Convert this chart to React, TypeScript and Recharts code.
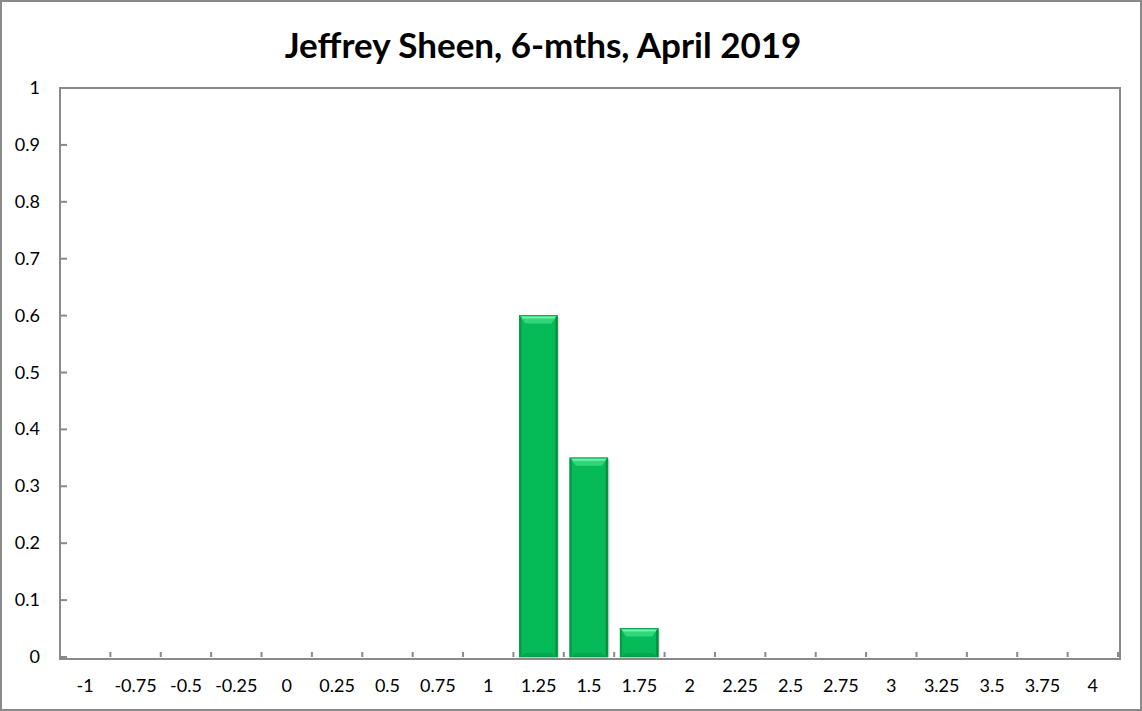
import { BarChart, Bar, XAxis, YAxis } from "recharts";

const categories = [
  "-1", "-0.75", "-0.5", "-0.25", "0", "0.25", "0.5", "0.75", "1", "1.25", "1.5",
  "1.75", "2", "2.25", "2.5", "2.75", "3", "3.25", "3.5", "3.75", "4",
];
const shares = [0, 0, 0, 0, 0, 0, 0, 0, 0, 0.6, 0.35, 0.05, 0, 0, 0, 0, 0, 0, 0, 0, 0];
const yTicks = [0, 0.1, 0.2, 0.3, 0.4, 0.5, 0.6, 0.7, 0.8, 0.9, 1];

const data = categories.map((c, i) => ({ cat: c, value: shares[i] }));

const W = 1142;
const H = 711;
const plot = { left: 60, top: 88, right: 1118, bottom: 657 };
const band = (plot.right - plot.left) / categories.length;
const axisColor = "#8a8a8a";
const font = "Lato, 'Open Sans', sans-serif";

// bevelled green bar, roughly like the Excel "angle" bevel
function BevelBar(props: any) {
  const { x, y, width: w, height: h } = props;
  if (!h || h <= 0) return null;
  const t = Math.min(8, h / 2);
  const s = 6;
  const e = 2;
  return (
    <g>
      <rect x={x + 2} y={y + 2} width={w} height={h - 2} fill="rgba(0,0,0,0.12)" />
      <rect x={x} y={y} width={w} height={h} fill="#05bb57" />
      <polygon points={`${x},${y} ${x + w},${y} ${x + w - s},${y + t} ${x + s},${y + t}`} fill="#2fd67a" />
      <polygon points={`${x + 1},${y + 1} ${x + w - 1},${y + 1} ${x + w - 3},${y + 3} ${x + 3},${y + 3}`} fill="#6ef0a8" />
      <polygon points={`${x},${y} ${x + e},${y + e} ${x + e},${y + h - e} ${x},${y + h}`} fill="#049a48" />
      <polygon points={`${x + w},${y} ${x + w - e},${y + e} ${x + w - e},${y + h - e} ${x + w},${y + h}`} fill="#038a41" />
      <polygon points={`${x},${y + h} ${x + s},${y + h - 4} ${x + w - s},${y + h - 4} ${x + w},${y + h}`} fill="#04a74e" />
      <rect x={x} y={y} width={w} height={h} fill="none" stroke="#039846" strokeWidth={0.8} />
    </g>
  );
}

function XTick(props: any) {
  const { x, payload } = props;
  return (
    <g>
      <line x1={x + band / 2} x2={x + band / 2} y1={plot.bottom} y2={plot.bottom - 5} stroke={axisColor} strokeWidth={2} />
      <text x={x} y={plot.bottom + 35} textAnchor="middle" fill="#000" fontSize={18} fontFamily={font}>
        {payload.value}
      </text>
    </g>
  );
}

function YTick(props: any) {
  const { y, payload } = props;
  return (
    <g>
      <line x1={plot.left} x2={plot.left + 7} y1={y} y2={y} stroke={axisColor} strokeWidth={2} />
      <text x={40} y={y + 6} textAnchor="end" fill="#000" fontSize={18} fontFamily={font}>
        {String(payload.value)}
      </text>
    </g>
  );
}

export default function App() {
  return (
    <div
      style={{
        position: "relative",
        width: W,
        height: H,
        boxSizing: "border-box",
        border: `2px solid ${axisColor}`,
        background: "#fff",
        margin: 0,
      }}
    >
      <style>{`body{margin:0}`}</style>
      <div
        style={{
          position: "absolute",
          top: 20,
          left: 0,
          width: 1082,
          textAlign: "center",
          fontFamily: font,
          fontWeight: 700,
          fontSize: 35,
          lineHeight: "44px",
          color: "#000",
        }}
      >
        Jeffrey Sheen, 6-mths, April 2019
      </div>
      <div style={{ position: "absolute", left: -2, top: -2 }}>
        <BarChart
          width={W}
          height={H}
          data={data}
          margin={{ top: plot.top, right: W - plot.right, bottom: 0, left: 0 }}
          barSize={38}
        >
          <XAxis dataKey="cat" axisLine={false} tickLine={false} tick={<XTick />} interval={0} height={H - plot.bottom} />
          <YAxis
            domain={[0, 1]}
            ticks={yTicks}
            axisLine={false}
            tickLine={false}
            tick={<YTick />}
            width={plot.left}
            interval={0}
          />
          <Bar dataKey="value" shape={<BevelBar />} isAnimationActive={false} />
        </BarChart>
        <div
          style={{
            position: "absolute",
            left: plot.left - 1,
            top: plot.top - 1,
            width: plot.right - plot.left,
            height: plot.bottom - plot.top,
            border: `2px solid ${axisColor}`,
            pointerEvents: "none",
          }}
        />
      </div>
    </div>
  );
}
